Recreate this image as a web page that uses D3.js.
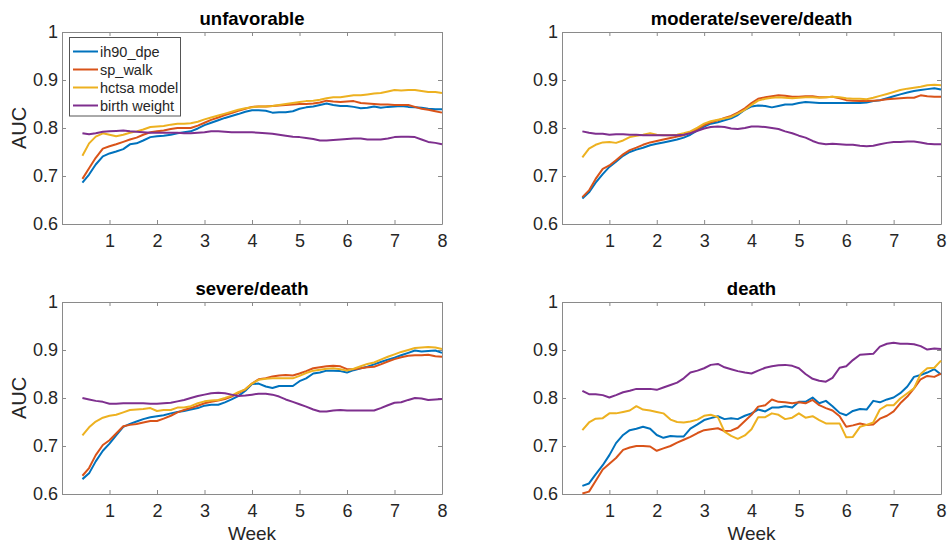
<!DOCTYPE html>
<html>
<head>
<meta charset="utf-8">
<script src="https://cdn.jsdelivr.net/npm/d3@7"></script>
<style>
  html, body { margin: 0; padding: 0; background: #fff; }
  svg { display: block; font-family: "Liberation Sans", Arial, Helvetica, sans-serif; }
</style>
</head>
<body>
<svg id="chart" width="947" height="544"></svg>
<script>
// ---------- data ----------
const weeks = [0.43,0.57,0.71,0.86,1.00,1.14,1.29,1.43,1.57,1.71,1.86,2.00,2.14,2.29,2.43,2.57,2.71,2.86,3.00,3.14,3.29,3.43,3.57,3.71,3.86,4.00,4.14,4.29,4.43,4.57,4.71,4.86,5.00,5.14,5.29,5.43,5.57,5.71,5.86,6.00,6.14,6.29,6.43,6.57,6.71,6.86,7.00,7.14,7.29,7.43,7.57,7.71,7.86,8.00];

const seriesNames = ["ih90_dpe", "sp_walk", "hctsa model", "birth weight"];
const seriesColors = ["#0072BD", "#D95319", "#EDB120", "#7E2F8E"];
const panelTitles = ["unfavorable", "moderate/severe/death", "severe/death", "death"];
const xTicks = [1, 2, 3, 4, 5, 6, 7, 8];
const yTicks = [0.6, 0.7, 0.8, 0.9, 1];

// unfavorable
const unfavIh90 = [0.686,0.703,0.724,0.741,0.747,0.751,0.756,0.766,0.768,0.774,0.781,0.783,0.784,0.786,0.789,0.791,0.793,0.799,0.806,0.811,0.816,0.821,0.825,0.829,0.834,0.837,0.837,0.836,0.832,0.833,0.833,0.835,0.840,0.843,0.845,0.848,0.851,0.848,0.846,0.846,0.844,0.841,0.842,0.845,0.842,0.844,0.845,0.846,0.844,0.843,0.842,0.840,0.839,0.839];
const unfavSpWalk = [0.694,0.716,0.738,0.757,0.762,0.766,0.771,0.776,0.780,0.786,0.791,0.793,0.795,0.798,0.800,0.800,0.800,0.805,0.811,0.817,0.822,0.827,0.831,0.836,0.840,0.844,0.845,0.845,0.846,0.847,0.848,0.849,0.850,0.850,0.851,0.853,0.857,0.855,0.854,0.855,0.856,0.852,0.851,0.850,0.849,0.849,0.848,0.848,0.848,0.844,0.840,0.838,0.835,0.832];
const unfavHctsa = [0.742,0.768,0.782,0.789,0.786,0.783,0.786,0.790,0.793,0.797,0.802,0.803,0.804,0.807,0.809,0.809,0.810,0.813,0.818,0.822,0.826,0.830,0.834,0.838,0.841,0.843,0.845,0.845,0.846,0.848,0.850,0.852,0.854,0.856,0.857,0.859,0.862,0.864,0.864,0.866,0.868,0.868,0.870,0.872,0.873,0.876,0.879,0.878,0.879,0.879,0.877,0.875,0.875,0.873];
const unfavBirthWt = [0.789,0.787,0.789,0.792,0.793,0.794,0.795,0.793,0.792,0.791,0.790,0.790,0.790,0.790,0.790,0.789,0.789,0.790,0.791,0.793,0.793,0.792,0.791,0.791,0.791,0.791,0.790,0.789,0.788,0.786,0.784,0.782,0.781,0.779,0.777,0.774,0.774,0.775,0.776,0.777,0.778,0.778,0.776,0.776,0.776,0.778,0.781,0.782,0.782,0.781,0.776,0.771,0.769,0.766];

// moderate/severe/death
const modIh90 = [0.653,0.666,0.686,0.704,0.719,0.730,0.742,0.750,0.755,0.759,0.764,0.767,0.770,0.773,0.776,0.780,0.786,0.795,0.803,0.809,0.812,0.816,0.820,0.827,0.838,0.845,0.847,0.846,0.843,0.846,0.849,0.849,0.852,0.854,0.853,0.852,0.852,0.852,0.852,0.852,0.852,0.852,0.853,0.856,0.858,0.862,0.866,0.870,0.874,0.877,0.879,0.881,0.883,0.880];
const modSpWalk = [0.656,0.670,0.694,0.715,0.722,0.733,0.745,0.754,0.759,0.765,0.770,0.773,0.776,0.779,0.782,0.785,0.791,0.798,0.806,0.812,0.816,0.821,0.825,0.832,0.841,0.852,0.861,0.864,0.866,0.868,0.867,0.865,0.865,0.866,0.866,0.864,0.864,0.865,0.862,0.858,0.857,0.856,0.856,0.857,0.858,0.860,0.861,0.862,0.863,0.863,0.868,0.866,0.865,0.865];
const modHctsa = [0.739,0.757,0.765,0.770,0.771,0.769,0.774,0.781,0.784,0.786,0.789,0.786,0.785,0.785,0.786,0.789,0.793,0.801,0.809,0.814,0.817,0.820,0.823,0.830,0.838,0.848,0.857,0.861,0.863,0.864,0.863,0.862,0.863,0.864,0.864,0.863,0.864,0.865,0.864,0.862,0.861,0.861,0.860,0.863,0.867,0.871,0.875,0.879,0.882,0.884,0.886,0.889,0.890,0.889];
const modBirthWt = [0.793,0.790,0.788,0.788,0.786,0.787,0.787,0.786,0.786,0.785,0.785,0.785,0.785,0.785,0.785,0.786,0.789,0.794,0.799,0.802,0.803,0.802,0.799,0.798,0.800,0.803,0.803,0.802,0.800,0.798,0.793,0.789,0.784,0.780,0.773,0.768,0.766,0.767,0.766,0.765,0.765,0.763,0.762,0.763,0.766,0.769,0.771,0.771,0.772,0.772,0.770,0.767,0.766,0.766];

// severe/death
const sevIh90 = [0.631,0.643,0.668,0.690,0.705,0.722,0.740,0.746,0.751,0.756,0.760,0.762,0.764,0.768,0.771,0.773,0.776,0.779,0.784,0.786,0.786,0.791,0.797,0.804,0.815,0.829,0.830,0.824,0.821,0.825,0.825,0.825,0.835,0.841,0.851,0.853,0.857,0.857,0.856,0.853,0.858,0.862,0.865,0.870,0.875,0.880,0.884,0.889,0.894,0.899,0.897,0.898,0.899,0.894];
const sevSpWalk = [0.638,0.654,0.681,0.702,0.712,0.726,0.741,0.744,0.746,0.749,0.752,0.752,0.757,0.763,0.770,0.775,0.779,0.784,0.789,0.792,0.795,0.798,0.803,0.810,0.818,0.830,0.839,0.841,0.845,0.847,0.848,0.847,0.851,0.856,0.862,0.864,0.866,0.867,0.866,0.860,0.860,0.862,0.864,0.865,0.870,0.876,0.881,0.885,0.888,0.889,0.889,0.890,0.887,0.886];
const sevHctsa = [0.722,0.739,0.751,0.759,0.763,0.765,0.770,0.775,0.776,0.777,0.779,0.773,0.775,0.775,0.780,0.780,0.783,0.789,0.793,0.795,0.796,0.800,0.805,0.812,0.818,0.830,0.838,0.840,0.841,0.841,0.841,0.841,0.846,0.852,0.857,0.859,0.861,0.862,0.860,0.857,0.861,0.866,0.871,0.874,0.880,0.886,0.891,0.896,0.900,0.904,0.905,0.906,0.905,0.902];
const sevBirthWt = [0.800,0.797,0.794,0.792,0.788,0.788,0.789,0.789,0.789,0.789,0.788,0.788,0.789,0.790,0.793,0.796,0.800,0.804,0.807,0.810,0.811,0.810,0.807,0.804,0.805,0.807,0.809,0.809,0.807,0.803,0.797,0.792,0.787,0.782,0.776,0.772,0.772,0.774,0.775,0.774,0.774,0.774,0.774,0.774,0.779,0.785,0.790,0.791,0.796,0.800,0.799,0.796,0.797,0.798];

// death
const deathIh90 = [0.617,0.622,0.641,0.660,0.681,0.706,0.723,0.733,0.736,0.740,0.736,0.723,0.717,0.721,0.720,0.720,0.736,0.745,0.754,0.758,0.762,0.756,0.758,0.756,0.763,0.768,0.776,0.772,0.780,0.780,0.783,0.780,0.792,0.792,0.801,0.789,0.794,0.783,0.769,0.764,0.773,0.777,0.776,0.794,0.791,0.797,0.801,0.810,0.824,0.844,0.848,0.853,0.860,0.849];
const deathSpWalk = [0.601,0.605,0.627,0.651,0.663,0.675,0.692,0.697,0.700,0.700,0.699,0.690,0.695,0.700,0.707,0.713,0.719,0.727,0.733,0.735,0.737,0.731,0.732,0.738,0.752,0.765,0.782,0.785,0.797,0.792,0.791,0.789,0.791,0.789,0.796,0.785,0.779,0.774,0.762,0.740,0.743,0.747,0.744,0.745,0.757,0.763,0.772,0.789,0.803,0.820,0.839,0.846,0.844,0.851];
const deathHctsa = [0.733,0.749,0.757,0.758,0.768,0.768,0.771,0.774,0.783,0.776,0.774,0.771,0.768,0.755,0.750,0.749,0.751,0.755,0.763,0.765,0.760,0.730,0.721,0.715,0.722,0.735,0.760,0.760,0.768,0.765,0.756,0.759,0.768,0.759,0.762,0.754,0.747,0.747,0.747,0.718,0.719,0.740,0.744,0.749,0.776,0.785,0.785,0.799,0.810,0.820,0.850,0.862,0.863,0.878];
const deathBirthWt = [0.815,0.808,0.808,0.806,0.801,0.806,0.812,0.815,0.819,0.819,0.819,0.817,0.822,0.827,0.832,0.841,0.853,0.857,0.862,0.869,0.871,0.864,0.860,0.856,0.853,0.851,0.857,0.863,0.866,0.868,0.869,0.867,0.862,0.850,0.840,0.836,0.834,0.842,0.863,0.866,0.879,0.890,0.891,0.892,0.907,0.913,0.915,0.913,0.913,0.912,0.908,0.901,0.903,0.902];

// ---------- drawing ----------
const panelSeries = [
  [unfavIh90, unfavSpWalk, unfavHctsa, unfavBirthWt],
  [modIh90, modSpWalk, modHctsa, modBirthWt],
  [sevIh90, sevSpWalk, sevHctsa, sevBirthWt],
  [deathIh90, deathSpWalk, deathHctsa, deathBirthWt]
];

const svg = d3.select("#chart");
const axisColor = "#8a8a8a";
const textColor = "#262626";

const layout = [
  { x0: 62, x1: 442, y0: 32, y1: 224, yLabel: true, xLabel: false, legend: true },
  { x0: 562, x1: 941, y0: 32, y1: 224, yLabel: false, xLabel: false, legend: false },
  { x0: 62, x1: 442, y0: 302, y1: 494, yLabel: true, xLabel: true, legend: false },
  { x0: 562, x1: 941, y0: 302, y1: 494, yLabel: false, xLabel: true, legend: false }
];

layout.forEach((L, pi) => {
  const x = d3.scaleLinear().domain([0, 8]).range([L.x0, L.x1]);
  const y = d3.scaleLinear().domain([0.6, 1]).range([L.y1, L.y0]);
  const g = svg.append("g");

  const fmtY = d => d === 1 ? "1" : d3.format(".1f")(d);
  const styleAxis = sel => {
    sel.select(".domain").attr("stroke", axisColor).attr("stroke-width", 1);
    sel.selectAll(".tick line").attr("stroke", axisColor).attr("stroke-width", 1);
    sel.selectAll(".tick text").attr("fill", textColor)
      .style("font-family", '"Liberation Sans", Arial, sans-serif').style("font-size", "18px");
  };

  g.append("g").attr("transform", `translate(0,${L.y1})`)
    .call(d3.axisBottom(x).tickValues(xTicks).tickFormat(d3.format("d"))
      .tickSizeInner(-4).tickSizeOuter(0).tickPadding(10))
    .call(styleAxis);
  g.append("g").attr("transform", `translate(0,${L.y0})`)
    .call(d3.axisTop(x).tickValues(xTicks).tickFormat("")
      .tickSizeInner(-4).tickSizeOuter(0))
    .call(styleAxis);
  g.append("g").attr("transform", `translate(${L.x0},0)`)
    .call(d3.axisLeft(y).tickValues(yTicks).tickFormat(fmtY)
      .tickSizeInner(-4).tickSizeOuter(0).tickPadding(4))
    .call(styleAxis);
  g.append("g").attr("transform", `translate(${L.x1},0)`)
    .call(d3.axisRight(y).tickValues(yTicks).tickFormat("")
      .tickSizeInner(-4).tickSizeOuter(0))
    .call(styleAxis);

  const line = d3.line().x(d => x(d[0])).y(d => y(d[1]));
  panelSeries[pi].forEach((vals, si) => {
    const pts = weeks.map((w, i) => [w, vals[i]]).filter(p => p[1] != null);
    g.append("path").datum(pts)
      .attr("fill", "none")
      .attr("stroke", seriesColors[si])
      .attr("stroke-width", 2)
      .attr("stroke-linejoin", "round")
      .attr("d", line);
  });

  g.append("text")
    .attr("x", (L.x0 + L.x1) / 2).attr("y", L.y0 - 7)
    .attr("text-anchor", "middle")
    .attr("fill", "#000")
    .style("font-size", "18.5px").style("font-weight", "bold")
    .text(panelTitles[pi]);

  if (L.yLabel) {
    g.append("text")
      .attr("transform", `translate(26,${(L.y0 + L.y1) / 2}) rotate(-90)`)
      .attr("text-anchor", "middle")
      .attr("fill", textColor)
      .style("font-size", "20px")
      .text("AUC");
  }
  if (L.xLabel) {
    g.append("text")
      .attr("x", (L.x0 + L.x1) / 2).attr("y", L.y1 + 46)
      .attr("text-anchor", "middle")
      .attr("fill", textColor)
      .style("font-size", "19px")
      .text("Week");
  }

  if (L.legend) {
    const lg = g.append("g");
    lg.append("rect")
      .attr("x", 69.5).attr("y", 37.5).attr("width", 111).attr("height", 78.5)
      .attr("fill", "#fff").attr("stroke", "#555").attr("stroke-width", 1);
    seriesNames.forEach((name, si) => {
      const yy = 51.5 + si * 18;
      lg.append("line").attr("x1", 73).attr("x2", 98).attr("y1", yy).attr("y2", yy)
        .attr("stroke", seriesColors[si]).attr("stroke-width", 2);
      lg.append("text").attr("x", 100).attr("y", yy + 5)
        .attr("fill", textColor).style("font-size", "14.5px").text(name);
    });
  }
});
</script>
</body>
</html>
